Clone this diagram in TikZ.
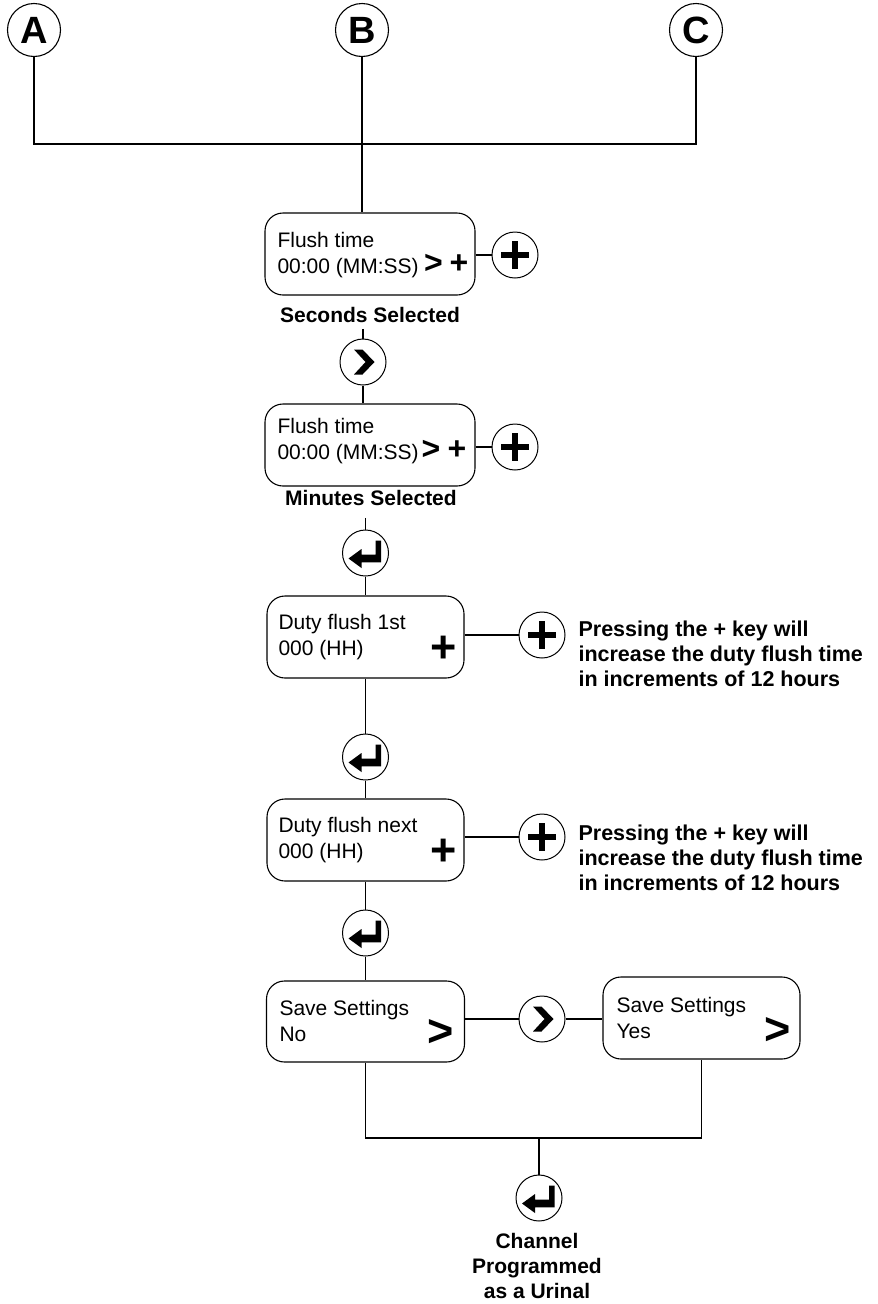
\documentclass[tikz,border=0pt]{standalone}
\usepackage{fontspec}
\setmainfont{Liberation Sans}
\usetikzlibrary{calc}
\newcommand\txtl[1]{\begin{tabular}[t]{@{}l@{}}#1\end{tabular}}
\newcommand\txtc[1]{\begin{tabular}[t]{@{}c@{}}#1\end{tabular}}
\tikzset{
  letter/.style={circle, draw, minimum size=53pt, inner sep=0pt, font=\fontsize{38}{38}\selectfont\bfseries},
  scrbox/.style={draw, rounded corners=18pt, minimum height=82pt, inner sep=0pt},
  keycirc/.style={circle, draw, line width=1pt, minimum size=46pt, inner sep=0pt},
  scrtext/.style={anchor=base west, inner sep=0pt, font=\fontsize{21}{26}\selectfont},
  sym/.style={anchor=base, inner sep=0pt, font=\fontsize{32}{32}\selectfont\bfseries},
  bigsym/.style={anchor=base, inner sep=0pt, font=\fontsize{45}{45}\selectfont\bfseries},
  lbl/.style={anchor=base, inner sep=0pt, font=\fontsize{21}{25}\selectfont\bfseries},
  notetext/.style={anchor=base west, inner sep=0pt, font=\fontsize{21.5}{25}\selectfont\bfseries},
  plusicon/.pic={\fill (-14.3,-2.7) rectangle (14.3,2.7); \fill (-2.7,-14.3) rectangle (2.7,14.3);},
  chevicon/.pic={\fill (-9,-12.5) -- (-0.5,-12.5) -- (11.5,0) -- (-0.5,12.5) -- (-9,12.5) -- (2.5,0) -- cycle;},
  entericon/.pic={\fill (15.7,-12.5) -- (15.7,9.3) -- (-4,9.3) -- (-4,15) -- (-17,5.5) -- (-4,-4) -- (-4,1.7) -- (10,1.7) -- (10,-12.5) -- cycle;}
}
\begin{document}
\begin{tikzpicture}[x=1pt, y=-1pt, line width=1.1pt]
\useasboundingbox (0,0) rectangle (878,1304);

% top letters
\node[letter] (A) at (34,30) {A};
\node[letter] (B) at (362,30) {B};
\node[letter] (C) at (696,30) {C};
\coordinate (hub) at (362,144);

% flush time, seconds
\node[scrbox, minimum width=210pt] (f1) at (370,254) {};
\node[scrtext] (f1t) at (277,247) {\txtl{Flush time\\00:00 (MM:SS)}};
\node[sym] (f1g) at (433.5,273) {>};
\node[sym] (f1p) at (459,273) {+};
\node[keycirc] (p1) at (515,255) {};
\pic at (p1) {plusicon};
\node[lbl] (s1) at (370,322) {Seconds Selected};
\node[keycirc] (c1) at (363,362) {};
\pic at (c1) {chevicon};

% flush time, minutes
\node[scrbox, minimum width=210pt] (f2) at (370,445) {};
\node[scrtext] (f2t) at (277,433) {\txtl{Flush time\\00:00 (MM:SS)}};
\node[sym] (f2g) at (431,459) {>};
\node[sym] (f2p) at (457,459) {+};
\node[keycirc] (p2) at (515,447) {};
\pic at (p2) {plusicon};
\node[lbl] (s2) at (371,505) {Minutes Selected};
\node[keycirc] (e1) at (365.5,553) {};
\pic at (e1) {entericon};

% duty flush 1st
\node[scrbox, minimum width=197pt] (d1) at (365.5,637) {};
\node[scrtext] (d1t) at (278,629) {\txtl{Duty flush 1st\\000 (HH)}};
\node[bigsym] (d1p) at (443.5,662) {+};
\node[keycirc] (p3) at (542,635) {};
\pic at (p3) {plusicon};
\node[notetext] (n1) at (578,636) {\txtl{Pressing the + key will\\increase the duty flush time\\in increments of 12 hours}};
\node[keycirc] (e2) at (365.5,757) {};
\pic at (e2) {entericon};

% duty flush next
\node[scrbox, minimum width=197pt] (d2) at (365.5,840) {};
\node[scrtext] (d2t) at (278,832) {\txtl{Duty flush next\\000 (HH)}};
\node[bigsym] (d2p) at (443.5,865) {+};
\node[keycirc] (p4) at (542,837) {};
\pic at (p4) {plusicon};
\node[notetext] (n2) at (578,840) {\txtl{Pressing the + key will\\increase the duty flush time\\in increments of 12 hours}};
\node[keycirc] (e3) at (365.5,933) {};
\pic at (e3) {entericon};

% save settings
\node[scrbox, minimum width=198pt, minimum height=81pt] (v1) at (365.5,1021.5) {};
\node[scrtext] (v1t) at (279,1015) {\txtl{Save Settings\\No}};
\node[bigsym] (v1g) at (440.5,1046) {>};
\node[keycirc] (c2) at (542,1019) {};
\pic at (c2) {chevicon};
\node[scrbox, minimum width=197pt] (v2) at (701.5,1018) {};
\node[scrtext] (v2t) at (616,1012) {\txtl{Save Settings\\Yes}};
\node[bigsym] (v2g) at (777.5,1044) {>};
\coordinate (hub2) at (539,1138);
\node[keycirc] (e4) at (539,1198) {};
\pic at (e4) {entericon};
\node[lbl] (end) at (537,1248) {\txtc{Channel\\Programmed\\as a Urinal}};

% connectors
\draw (A.south) |- (hub) -| (C.south);
\draw (B.south) -- (B.south |- f1.north);
\draw (p1.west -| f1.east) -- (p1.west);
\draw ($(s1.south -| c1)+(0,6)$) -- (c1.north);
\draw (c1.south) -- (c1.south |- f2.north);
\draw (p2.west -| f2.east) -- (p2.west);
\draw ($(s2.south -| e1)+(0,12)$) -- (e1.north);
\draw (e1.south) -- (e1.south |- d1.north);
\draw (p3.west -| d1.east) -- (p3.west);
\draw (d1.south -| e2) -- (e2.north);
\draw (e2.south) -- (e2.south |- d2.north);
\draw (p4.west -| d2.east) -- (p4.west);
\draw (d2.south -| e3) -- (e3.north);
\draw (e3.south) -- (e3.south |- v1.north);
\draw (c2.west -| v1.east) -- (c2.west);
\draw (c2.east) -- (c2.east -| v2.west);
\draw (v1.south) |- (hub2) -| (v2.south);
\draw (hub2) -- (e4.north);
\end{tikzpicture}
\end{document}
